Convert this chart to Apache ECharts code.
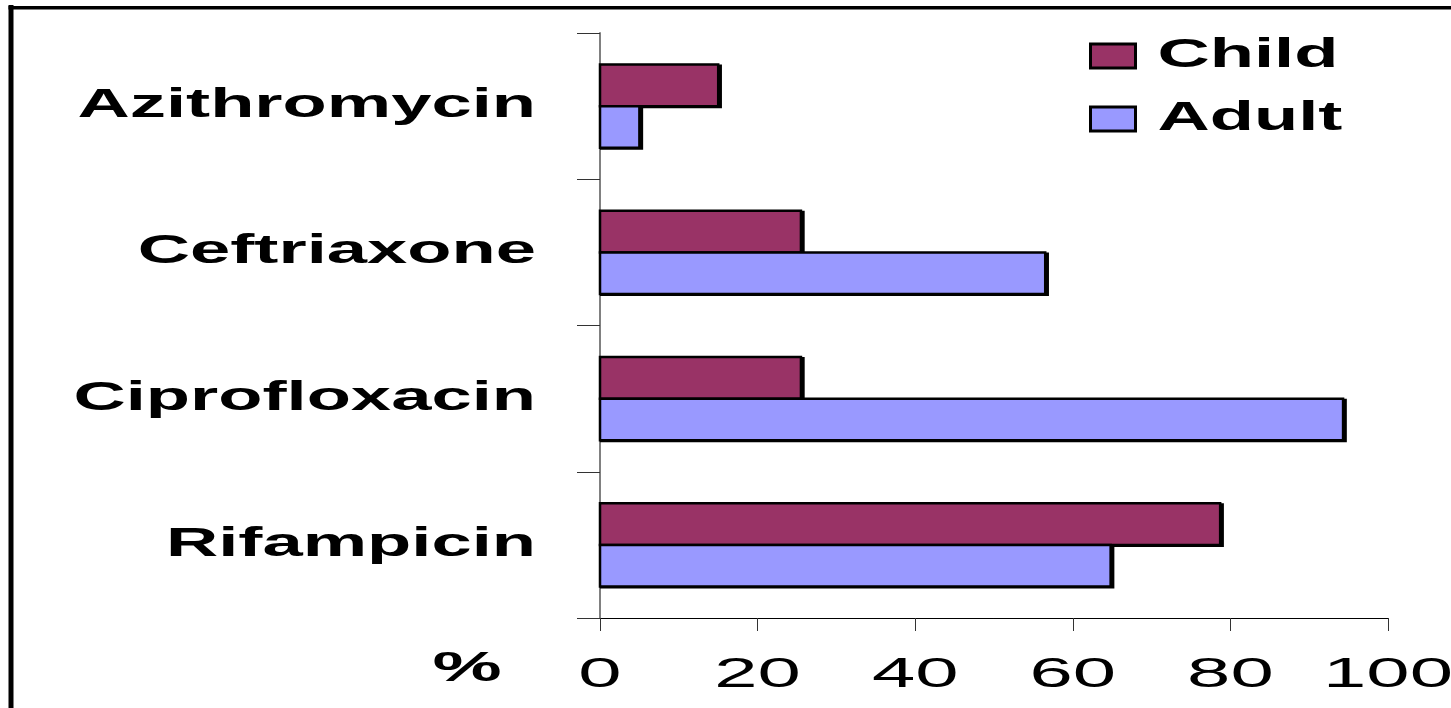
<!DOCTYPE html>
<html>
<head>
<meta charset="utf-8">
<style>
  html, body { margin: 0; padding: 0; background: #fff; }
  #chart { width: 1451px; height: 708px; }
</style>
<script src="https://cdn.jsdelivr.net/npm/echarts@6/dist/echarts.min.js"></script>
</head>
<body>
<div id="chart"></div>
<script>
// ---- data ----
const categories = ['Azithromycin', 'Ceftriaxone', 'Ciprofloxacin', 'Rifampicin'];
const seriesNames = ['Child', 'Adult'];
const childValues = [15, 25.5, 25.5, 78.7];
const adultValues = [5, 56.5, 94.3, 64.8];
const xTickLabels = ['0', '20', '40', '60', '80', '100'];
const xUnitLabel = '%';
const seriesColors = ['#993366', '#9999FF'];

// The original picture is stretched horizontally; stretch all drawn text the same way.
const TEXT_STRETCH = 1.81;
(function () {
  const proto = CanvasRenderingContext2D.prototype;
  const origFill = proto.fillText;
  proto.fillText = function (t, x, y) {
    this.save();
    this.translate(x, y);
    this.scale(TEXT_STRETCH, 1);
    if (arguments.length > 3) origFill.call(this, t, 0, 0, arguments[3] / TEXT_STRETCH);
    else origFill.call(this, t, 0, 0);
    this.restore();
  };
})();

const FONT = '"Liberation Sans", Arial, sans-serif';
const chart = echarts.init(document.getElementById('chart'), null, { renderer: 'canvas' });

const BAR_FRACTION = 0.285;   // each bar's share of a category band
const BORDER = 2.5;

function makeRenderItem(slot, color) {
  return function (params, api) {
    const catIdx = api.value(0);
    const val = api.value(1);
    const base = api.coord([0, catIdx]);
    const end = api.coord([val, catIdx]);
    const band = api.size([0, 1])[1];
    const h = band * BAR_FRACTION;
    const yTop = slot === 0 ? base[1] - h : base[1];
    const w = end[0] - base[0];
    const half = BORDER / 2;
    return {
      type: 'group',
      children: [
        { // drop shadow (right / bottom)
          type: 'rect',
          shape: { x: base[0], y: yTop, width: w + half + 2.5, height: h + half + 0.8 },
          style: { fill: '#000' }
        },
        {
          type: 'rect',
          shape: { x: base[0], y: yTop, width: w, height: h },
          style: { fill: color, stroke: '#000', lineWidth: BORDER }
        }
      ]
    };
  };
}

chart.setOption({
  animation: false,
  backgroundColor: '#fff',
  grid: { left: 600, right: 63, top: 33, bottom: 90, outerBoundsMode: 'none' },
  legend: {
    data: seriesNames,
    orient: 'vertical',
    left: 1084,
    top: 31,
    itemWidth: 45,
    itemHeight: 24,
    itemGap: 23,
    icon: 'rect',
    selectedMode: false,
    itemStyle: { borderColor: '#000', borderWidth: 3, shadowColor: 'rgba(0,0,0,0)', shadowOffsetX: 0, shadowOffsetY: 0 },
    textStyle: { fontFamily: FONT, fontWeight: 'bold', fontSize: 40, color: '#000', padding: [0, 0, 0, 17] }
  },
  xAxis: {
    type: 'value',
    min: 0,
    max: 100,
    interval: 20,
    splitLine: { show: false },
    axisLine: { show: true, onZero: false, lineStyle: { color: '#000', width: 1 } },
    axisTick: { show: true, length: 13, lineStyle: { color: '#333', width: 1 } },
    axisLabel: {
      margin: 36,
      fontFamily: FONT,
      fontSize: 43,
      color: '#000',
      formatter: (v) => xTickLabels[Math.round(v / 20)]
    }
  },
  yAxis: {
    type: 'category',
    data: categories,
    inverse: true,
    axisLine: { show: true, lineStyle: { color: '#808080', width: 2 } },
    axisTick: { show: true, length: 23, alignWithLabel: false, lineStyle: { color: '#333', width: 1 } },
    axisLabel: {
      margin: 64,
      fontFamily: FONT,
      fontWeight: 'bold',
      fontSize: 40,
      color: '#000'
    }
  },
  series: [
    {
      name: seriesNames[0],
      type: 'custom',
      renderItem: makeRenderItem(0, seriesColors[0]),
      encode: { x: 1, y: 0 },
      itemStyle: { color: seriesColors[0] },
      data: childValues.map((v, i) => [i, v])
    },
    {
      name: seriesNames[1],
      type: 'custom',
      renderItem: makeRenderItem(1, seriesColors[1]),
      encode: { x: 1, y: 0 },
      itemStyle: { color: seriesColors[1] },
      data: adultValues.map((v, i) => [i, v])
    }
  ],
  graphic: [
    { type: 'line', shape: { x1: 11, y1: 5, x2: 11, y2: 720 }, style: { stroke: '#000', lineWidth: 5 }, silent: true },
    { type: 'line', shape: { x1: 8.5, y1: 7.7, x2: 1460, y2: 7.7 }, style: { stroke: '#000', lineWidth: 3.5 }, silent: true },
    {
      type: 'text',
      style: {
        text: xUnitLabel, x: 467, y: 669,
        fontFamily: FONT, fontWeight: 'bold', fontSize: 43,
        fill: '#000', align: 'center', verticalAlign: 'middle'
      },
      silent: true
    }
  ]
});
</script>
</body>
</html>
